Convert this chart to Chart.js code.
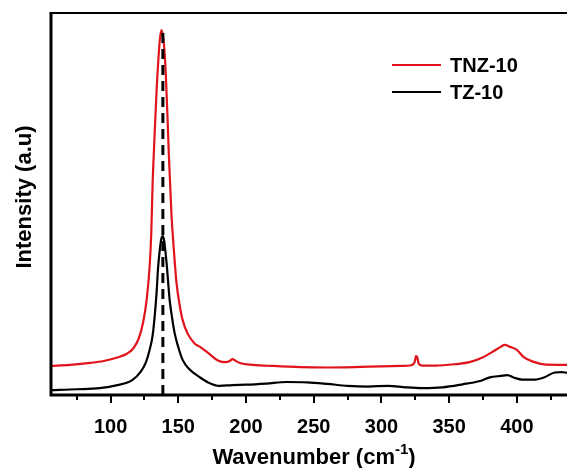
<!DOCTYPE html>
<html>
<head>
<meta charset="utf-8">
<script src="https://cdn.jsdelivr.net/npm/chart.js@4.4.1/dist/chart.umd.min.js"></script>
<style>
  html, body { margin: 0; padding: 0; background: #fff; }
  #wrap { width: 567px; height: 468px; }
</style>
</head>
<body>
<div id="wrap"><canvas id="chart" width="567" height="468"></canvas></div>
<script>
// ── Data ─────────────────────────────────────────────────────────────────────
const X_MIN = 56, X_MAX = 437;
const Y_MIN = 0, Y_MAX = 100;
const TICK_STEP = 25;
const PEAK_POS = 138.6;
const PEAK_TOP = 96.3;

const tnzX = [56, 70, 85, 95, 105, 112, 117, 121, 124, 126.5, 128.8, 130, 131, 132.5, 134, 135.5, 136.5, 137.7,
  139, 140, 141, 142, 143, 144, 145, 146.5, 148.7, 151, 153.2, 157, 162, 166, 172, 180, 185, 188, 190, 192, 196,
  205, 220, 240, 260, 280, 300, 315, 322, 324.5, 325.5, 326.5, 327.5, 330, 340, 355, 365, 375, 383, 388, 391,
  395, 400, 405, 413, 420, 430, 437];
const tnzY = [7.6, 7.9, 8.4, 8.9, 9.8, 10.8, 12.3, 15.0, 19.0, 24.5, 33.5, 42, 55, 68, 80, 89, 93.5, 95.5,
  93, 89, 82, 73, 63, 55, 47, 39, 29.3, 23.5, 19.6, 16, 13.5, 12.6, 11, 8.9, 8.6, 8.9, 9.4, 9.0, 8.3,
  7.9, 7.6, 7.3, 7.2, 7.3, 7.5, 7.6, 7.8, 8.6, 10.2, 9.8, 8.2, 7.7, 7.7, 8.1, 8.6, 9.9, 11.5, 12.6, 13.1,
  12.6, 11.8, 9.9, 8.6, 8.0, 7.9, 7.9];

const tzX = [56, 75, 92, 105, 116, 122, 126, 128.8, 131, 132.5, 134, 135, 136.5, 137.5, 138.5, 139.5, 140.5,
  141.5, 142.5, 143.6, 145.5, 147.3, 150, 153.2, 158, 165.7, 172, 180.5, 190, 200, 215, 230, 245, 260, 275,
  290, 305, 318, 330, 345, 360, 372, 380, 388, 393, 398, 405, 412, 420, 428, 433, 437];
const tzY = [1.3, 1.5, 1.8, 2.6, 3.9, 6.0, 8.5, 11.8, 15.5, 20.4, 27, 33, 38.5, 41, 41.6, 40.5, 37.5,
  34, 29.5, 24.9, 20, 16.2, 12.5, 9.2, 6.8, 4.7, 3.3, 2.4, 2.6, 2.7, 3.0, 3.4, 3.3, 2.9, 2.4,
  2.2, 2.4, 2.0, 1.8, 2.0, 2.8, 3.6, 4.6, 5.0, 5.2, 4.5, 4.0, 4.0, 4.6, 5.9, 6.0, 5.8];

const SERIES_LABELS = ["TNZ-10", "TZ-10"];
const SERIES_COLORS = ["#e0141a", "#000000"];

// ── Helpers ──────────────────────────────────────────────────────────────────
const FONT = '"Liberation Sans", Arial, sans-serif';
const toPoints = (xs, ys) => xs.map((x, i) => ({ x, y: ys[i] }));

// ── Frame, ticks, titles and legend ──────────────────────────────────────────
const framePlugin = {
  id: "frame",
  afterDraw(chart) {
    const { ctx, chartArea: a, scales } = chart;
    ctx.save();
    ctx.strokeStyle = "#000";
    ctx.lineCap = "butt";

    // axes
    ctx.lineWidth = 3;
    ctx.beginPath();
    ctx.moveTo(a.left, a.top);
    ctx.lineTo(a.left, a.bottom);
    ctx.lineTo(chart.width, a.bottom);
    ctx.stroke();
    ctx.lineWidth = 2;
    ctx.beginPath();
    ctx.moveTo(a.left - 1.5, a.top);
    ctx.lineTo(chart.width, a.top);
    ctx.stroke();

    // x ticks, major every 50, minor in between
    ctx.lineWidth = 2;
    scales.x.ticks.forEach((t) => {
      const px = Math.round(scales.x.getPixelForValue(t.value));
      const len = t.value % 50 === 0 ? 8 : 5;
      ctx.beginPath();
      ctx.moveTo(px, a.bottom);
      ctx.lineTo(px, a.bottom + len);
      ctx.stroke();
    });

    // axis titles
    ctx.fillStyle = "#000";
    ctx.textBaseline = "alphabetic";
    const main = "Wavenumber (cm";
    ctx.font = `bold 22px ${FONT}`;
    const wMain = ctx.measureText(main).width;
    ctx.font = `bold 15px ${FONT}`;
    const wSup = ctx.measureText("-1").width;
    ctx.font = `bold 22px ${FONT}`;
    const wClose = ctx.measureText(")").width;
    const x0 = 314 - (wMain + wSup + wClose) / 2;
    const base = 464;
    ctx.textAlign = "left";
    ctx.fillText(main, x0, base);
    ctx.font = `bold 15px ${FONT}`;
    ctx.fillText("-1", x0 + wMain, base - 10);
    ctx.font = `bold 22px ${FONT}`;
    ctx.fillText(")", x0 + wMain + wSup, base);

    ctx.save();
    ctx.translate(31, 197);
    ctx.rotate(-Math.PI / 2);
    ctx.textAlign = "center";
    ctx.font = `bold 22px ${FONT}`;
    ctx.fillText("Intensity (a.u)", 0, 0);
    ctx.restore();

    // legend
    const rows = [65, 92];
    ctx.font = `bold 20px ${FONT}`;
    ctx.textBaseline = "middle";
    ctx.textAlign = "left";
    SERIES_LABELS.forEach((label, i) => {
      const y = rows[i];
      ctx.strokeStyle = SERIES_COLORS[i];
      ctx.lineWidth = 2;
      ctx.beginPath();
      ctx.moveTo(392, y);
      ctx.lineTo(441, y);
      ctx.stroke();
      ctx.fillStyle = "#000";
      ctx.fillText(label, 450, y + 1);
    });
    ctx.restore();
  },
};

// ── Chart ────────────────────────────────────────────────────────────────────
new Chart(document.getElementById("chart"), {
  type: "line",
  data: {
    datasets: [
      {
        label: "peak",
        data: [{ x: PEAK_POS, y: Y_MIN }, { x: PEAK_POS, y: PEAK_TOP }],
        borderColor: "#000",
        borderWidth: 3,
        borderDash: [10, 6],
        pointRadius: 0,
        order: 0,
      },
      {
        label: SERIES_LABELS[0],
        data: toPoints(tnzX, tnzY),
        borderColor: SERIES_COLORS[0],
        borderWidth: 2.2,
        pointRadius: 0,
        cubicInterpolationMode: "monotone",
        order: 2,
      },
      {
        label: SERIES_LABELS[1],
        data: toPoints(tzX, tzY),
        borderColor: SERIES_COLORS[1],
        borderWidth: 2.2,
        pointRadius: 0,
        cubicInterpolationMode: "monotone",
        order: 1,
      },
    ],
  },
  options: {
    responsive: false,
    devicePixelRatio: 1,
    animation: false,
    layout: { padding: { top: 13, right: 0, left: 0, bottom: 0 } },
    plugins: { legend: { display: false }, tooltip: { enabled: false } },
    scales: {
      x: {
        type: "linear",
        min: X_MIN,
        max: X_MAX,
        grid: { display: false },
        border: { display: false },
        ticks: {
          stepSize: TICK_STEP,
          includeBounds: false,
          autoSkip: false,
          maxRotation: 0,
          padding: 12,
          color: "#000",
          font: { family: FONT, size: 20, weight: "bold" },
          callback: (v) => (v % 50 === 0 ? String(v) : ""),
        },
        afterFit: (s) => { s.height = 73; },
      },
      y: {
        min: Y_MIN,
        max: Y_MAX,
        grid: { display: false },
        border: { display: false },
        ticks: { display: false },
        afterFit: (s) => { s.width = 51; },
      },
    },
  },
  plugins: [framePlugin],
});
</script>
</body>
</html>
